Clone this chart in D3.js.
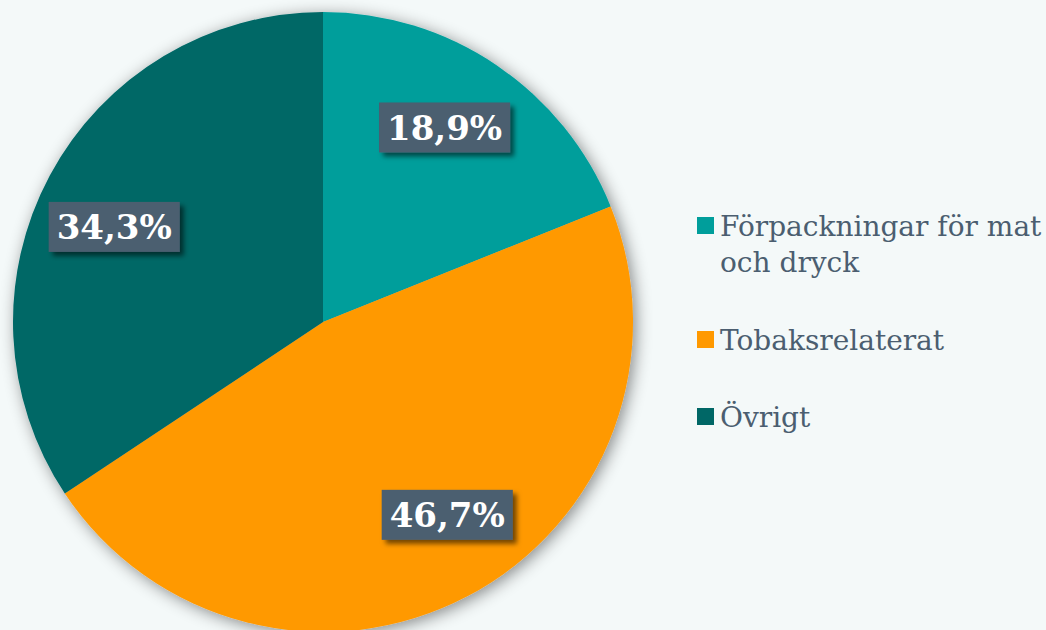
<!DOCTYPE html>
<html><head><meta charset="utf-8">
<script src="https://cdn.jsdelivr.net/npm/d3@7"></script>
<style>
html,body{margin:0;padding:0;background:#f4f9f9;}
svg{display:block;}
</style></head>
<body><svg id="c" width="1046" height="630"></svg>
<script>
const categories = ["Förpackningar för mat och dryck", "Tobaksrelaterat", "Övrigt"];
const legendLines = [["Förpackningar för mat", "och dryck"], ["Tobaksrelaterat"], ["Övrigt"]];
const values = [18.9, 46.7, 34.3];
const valueLabels = ["18,9%", "46,7%", "34,3%"];
const colors = ["#009e9b", "#ff9900", "#006766"];

const W = 1046, H = 630;
const svg = d3.select("#c");
const defs = svg.append("defs");
const f1 = defs.append("filter").attr("id","pieShadow").attr("x","-20%").attr("y","-20%").attr("width","140%").attr("height","140%");
f1.append("feDropShadow").attr("dx",3).attr("dy",3).attr("stdDeviation",8).attr("flood-color","#000").attr("flood-opacity",0.45);
const f2 = defs.append("filter").attr("id","boxShadow").attr("x","-20%").attr("y","-30%").attr("width","150%").attr("height","170%");
f2.append("feDropShadow").attr("dx",4).attr("dy",4).attr("stdDeviation",2.5).attr("flood-color","#000").attr("flood-opacity",0.55);

const cx = 323, cy = 322, R = 310;
const pie = d3.pie().sort(null).value(d => d)(values);
const arc = d3.arc().innerRadius(0).outerRadius(R);
const g = svg.append("g").attr("transform", `translate(${cx},${cy})`);
const slices = g.append("g").attr("filter","url(#pieShadow)");
slices.selectAll("path").data(pie).join("path")
  .attr("d", arc).attr("fill", (d,i) => colors[i]);

// label placement: along the slice at a fixed fraction of its sweep
const labelR = R * 0.74, labelFrac = 0.47;
const lg = g.append("g");
pie.forEach((d,i) => {
  const a = d.startAngle + labelFrac * (d.endAngle - d.startAngle);
  const x = labelR * Math.sin(a), y = -labelR * Math.cos(a);
  const grp = lg.append("g").attr("transform", `translate(${x},${y})`);
  const rect = grp.append("rect").attr("fill","#4b5e70").attr("filter","url(#boxShadow)");
  const t = grp.append("text").text(valueLabels[i])
    .attr("text-anchor","middle").attr("dy","0.36em")
    .attr("font-family","'DejaVu Serif', serif").attr("font-weight","bold")
    .attr("font-size", 34).attr("fill","#fff");
  const bw = t.node().getComputedTextLength() + 16;
  const bh = 50;
  rect.attr("x",-bw/2).attr("y",-bh/2).attr("width",bw).attr("height",bh);
});

// legend
const leg = svg.append("g").attr("transform","translate(697,0)");
const legY = [236, 350, 427];
legendLines.forEach((lines,i) => {
  const row = leg.append("g").attr("transform",`translate(0,${legY[i]})`);
  row.append("rect").attr("x",0).attr("y",-19).attr("width",17).attr("height",17).attr("fill",colors[i]);
  const t = row.append("text").attr("x",23).attr("y",0)
    .attr("font-family","'DejaVu Serif', serif").attr("font-size",28).attr("fill","#4b5e70");
  lines.forEach((ln,j) => t.append("tspan").attr("x",23).attr("dy", j===0?0:36).text(ln));
});
</script></body></html>
